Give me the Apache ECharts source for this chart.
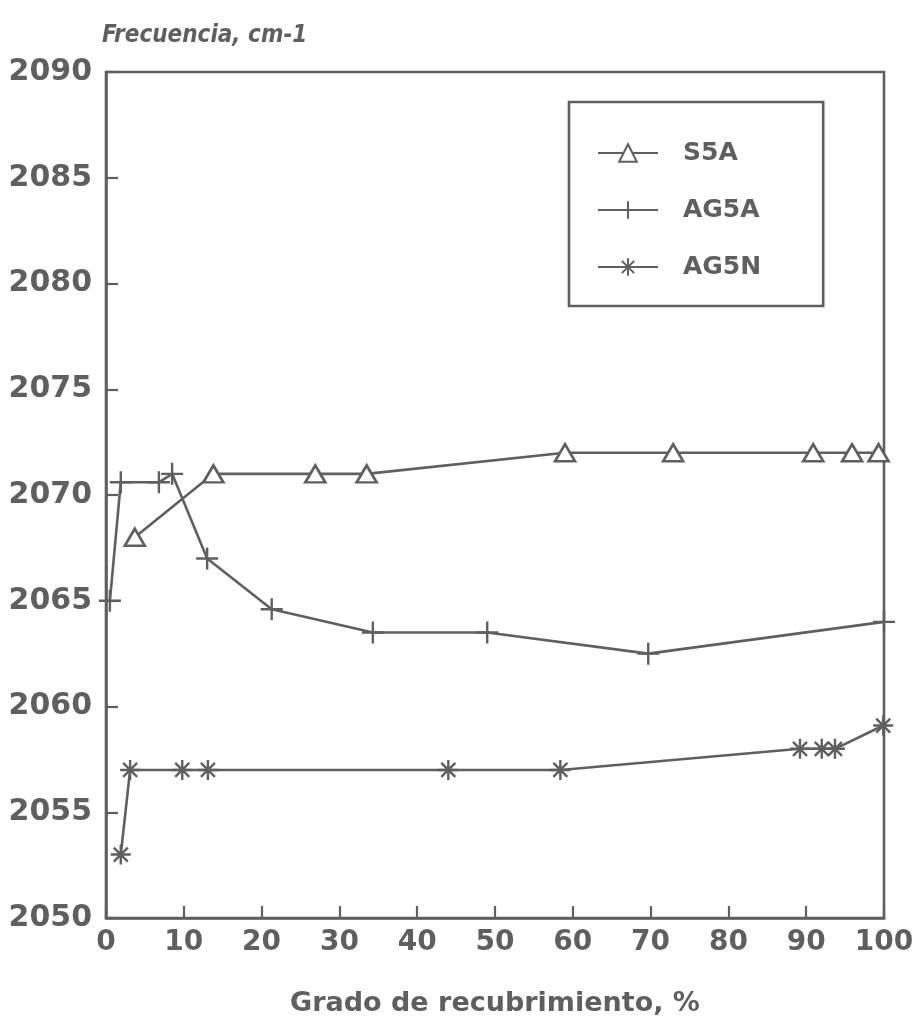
<!DOCTYPE html>
<html>
<head>
<meta charset="utf-8">
<script src="https://cdn.jsdelivr.net/npm/echarts@6/dist/echarts.min.js"></script>
<style>
html,body{margin:0;padding:0;background:#fff;}
#chart{width:916px;height:1024px;}
</style>
</head>
<body>
<div id="chart"></div>
<script>
// Data
const s5aX  = [3.7, 13.8, 26.9, 33.5, 59.0, 72.9, 90.9, 95.9, 99.3];
const s5aY  = [2068.0, 2071.0, 2071.0, 2071.0, 2072.0, 2072.0, 2072.0, 2072.0, 2072.0];

const ag5aX = [0.5, 1.9, 6.8, 8.5, 13.0, 21.3, 34.3, 49.0, 69.7, 100];
const ag5aY = [2065.0, 2070.6, 2070.6, 2071.0, 2067.0, 2064.6, 2063.5, 2063.5, 2062.5, 2064.0];

const ag5nX = [1.9, 3.1, 9.8, 13.1, 44.0, 58.4, 89.2, 92.0, 93.7, 99.9];
const ag5nY = [2053.0, 2057.0, 2057.0, 2057.0, 2057.0, 2057.0, 2058.0, 2058.0, 2058.0, 2059.1];

const seriesNames = ['S5A', 'AG5A', 'AG5N'];
const yTitle = 'Frecuencia, cm-1';
const xTitle = 'Grado de recubrimiento, %';

const INK = '#5f5f5f';
const FONT = '"DejaVu Sans", sans-serif';

function pairs(xs, ys){ return xs.map((x,i)=>[x, ys[i]]); }

const plusPath = 'path://M0,10L20,10M10,0L10,20';
const starPath = 'path://M10,0L10,20M0,10L20,10M3,3L17,17M3,17L17,3';

const chart = echarts.init(document.getElementById('chart'), null, {renderer:'canvas'});

const lineCommon = {
  type: 'line',
  lineStyle: {color: INK, width: 2.6},
  animation: false,
  z: 3
};

chart.setOption({
  backgroundColor: '#fff',
  animation: false,
  title: {
    text: yTitle,
    left: 97, top: 19,
    textStyle: {
      fontFamily: '"Liberation Sans Narrow", "DejaVu Sans Condensed", "Liberation Sans", sans-serif',
      fontStyle: 'italic', fontWeight: 'bold', fontSize: 24, color: INK
    }
  },
  grid: {
    left: 106, right: 32, top: 72, bottom: 106,
    outerBoundsMode: 'none',
    containLabel: false,
    show: true, borderColor: INK, borderWidth: 2.6, backgroundColor: 'transparent'
  },
  legend: {
    orient: 'vertical',
    left: 569, top: 102,
    data: seriesNames,
    itemWidth: 60, itemHeight: 22,
    itemGap: 27,
    padding: [36, 62, 24, 28],
    borderColor: INK, borderWidth: 2.6,
    textStyle: {fontFamily: FONT, fontWeight: 'bold', fontSize: 25, color: INK, lineHeight: 30, padding: [0,0,0,20]}
  },
  xAxis: {
    type: 'value', min: 0, max: 100, interval: 10,
    axisLine: {show: true, lineStyle: {color: INK, width: 2.6}},
    axisTick: {show: true, inside: true, length: 12, lineStyle: {color: INK, width: 2.2}},
    axisLabel: {fontFamily: FONT, fontWeight: 'bold', fontSize: 28, color: INK, margin: 11},
    splitLine: {show: false},
    name: xTitle, nameLocation: 'middle', nameGap: 72,
    nameTextStyle: {fontFamily: FONT, fontWeight: 'bold', fontSize: 27, color: INK}
  },
  yAxis: {
    type: 'value', min: 2050, max: 2090, interval: 5,
    axisLine: {show: true, lineStyle: {color: INK, width: 2.6}},
    axisTick: {show: true, inside: true, length: 12, lineStyle: {color: INK, width: 2.2}},
    axisLabel: {fontFamily: FONT, fontWeight: 'bold', fontSize: 30, color: INK, margin: 14,
      formatter: function(v){ return String(v); }},
    splitLine: {show: false}
  },
  series: [
    Object.assign({}, lineCommon, {
      name: seriesNames[0],
      data: pairs(s5aX, s5aY),
      symbol: 'triangle', symbolSize: [20, 17],
      itemStyle: {color: '#fff', borderColor: INK, borderWidth: 2.6}
    }),
    Object.assign({}, lineCommon, {
      name: seriesNames[1],
      data: pairs(ag5aX, ag5aY),
      symbol: plusPath, symbolSize: 22,
      itemStyle: {color: 'none', borderColor: INK, borderWidth: 2.4}
    }),
    Object.assign({}, lineCommon, {
      name: seriesNames[2],
      data: pairs(ag5nX, ag5nY),
      symbol: starPath, symbolSize: 20,
      itemStyle: {color: 'none', borderColor: INK, borderWidth: 2.4}
    })
  ]
});
</script>
</body>
</html>
